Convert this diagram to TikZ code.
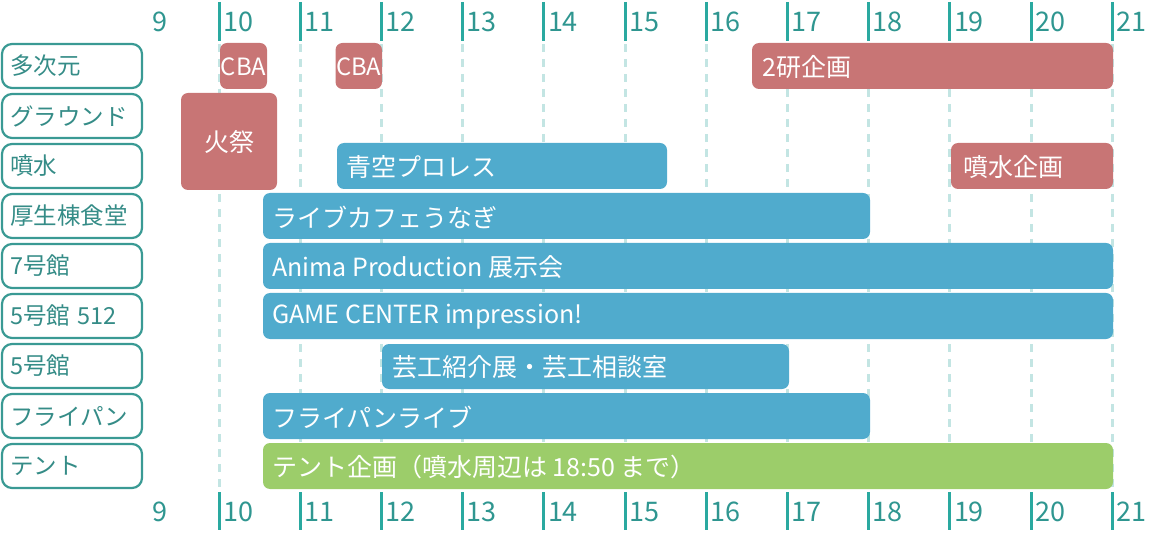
\documentclass[tikz,border=0pt]{standalone}
\usepackage{fontspec}
\setmainfont{Noto Sans CJK JP}
\definecolor{barred}{HTML}{C87575}
\definecolor{barblue}{HTML}{50ABCD}
\definecolor{bargreen}{HTML}{9CCD6A}
\definecolor{tickteal}{HTML}{2AA9A0}
\definecolor{dashteal}{HTML}{C3E5E3}
\definecolor{labborder}{HTML}{3A9A94}
\definecolor{labtext}{HTML}{358C87}
\definecolor{numteal}{HTML}{2F9690}
\tikzset{
  lab/.style={draw=labborder, line width=2.2pt, rounded corners=10pt, minimum width=140pt, minimum height=44pt,
    inner xsep=8pt, text width=124pt, align=left, text=labtext, font=\fontsize{23.5}{26}\selectfont},
  hourtick/.style={draw=tickteal, line width=3pt},
  grid/.style={draw=dashteal, line width=3pt, dash pattern=on 8pt off 7pt},
  num/.style={text=numteal, font=\fontsize{27}{30}\selectfont, inner sep=0pt, anchor=west},
  redbar/.style={fill=barred, rounded corners=7pt},
  bluebar/.style={fill=barblue, rounded corners=7pt},
  greenbar/.style={fill=bargreen, rounded corners=7pt},
  bartext/.style={text=white, font=\fontsize{25}{28}\selectfont, inner sep=0pt, anchor=west},
  barctext/.style={text=white, font=\fontsize{25}{28}\selectfont, inner sep=0pt},
  cbatext/.style={text=white, font=\fontsize{23.8}{26}\selectfont, inner sep=0pt},
}
\begin{document}
\begin{tikzpicture}[x=1pt,y=-1pt]
\useasboundingbox (0,0) rectangle (1153,534);
% dashed grid lines, ticks and hour numbers
\foreach \h in {10,...,21}{
  \pgfmathsetmacro{\xx}{219+(\h-10)*81.2}
  \draw[grid] (\xx,44) -- (\xx,490);
  \draw[hourtick] (\xx,2) -- (\xx,41);
  \draw[hourtick] (\xx,492) -- (\xx,530);
  \node[num] (top\h) at (\xx+4,22) {\h};
  \node[num] (bot\h) at (\xx+4,512) {\h};
}
\node[num] (top9) at (152,22) {9};
\node[num] (bot9) at (152,512) {9};
% row labels
\node[lab] (r1) at (72,66) {多次元};
\node[lab] (r2) at (72,116) {グラウンド};
\node[lab] (r3) at (72,166) {噴水};
\node[lab] (r4) at (72,216) {厚生棟食堂};
\node[lab] (r5) at (72,266) {7号館};
\node[lab] (r6) at (72,316) {5号館 512};
\node[lab] (r7) at (72,366) {5号館};
\node[lab] (r8) at (72,416) {フライパン};
\node[lab] (r9) at (72,466) {テント};
% bars
\path[redbar] (220,43) rectangle (267,89);
\node[cbatext] (cba1) at (243.5,67) {CBA};
\path[redbar] (335.5,43) rectangle (382,89);
\node[cbatext] (cba2) at (358.7,67) {CBA};
\path[redbar] (752,43) rectangle (1113,89);
\node[bartext] (niken) at (762,67) {2研企画};
\path[redbar] (181,93) rectangle (277,190);
\node[barctext] (himatsuri) at (229,142) {火祭};
\path[bluebar] (337,143) rectangle (667,189);
\node[bartext] (aozora) at (346,167) {青空プロレス};
\path[redbar] (951,143) rectangle (1113,189);
\node[bartext] (funsui) at (963,167) {噴水企画};
\path[bluebar] (263,193) rectangle (870,239);
\node[bartext] (cafe) at (272,217) {ライブカフェうなぎ};
\path[bluebar] (263,243) rectangle (1113,289);
\node[bartext] (anima) at (272,267) {Anima Production 展示会};
\path[bluebar] (263,293) rectangle (1113,339);
\node[bartext] (game) at (272,317) {GAME CENTER impression!};
\path[bluebar] (382,344) rectangle (789,389);
\node[bartext] (geiko) at (392,367) {芸工紹介展・芸工相談室};
\path[bluebar] (263,393) rectangle (870,439);
\node[bartext] (fry) at (272,417) {フライパンライブ};
\path[greenbar] (263,443) rectangle (1113,489);
\node[bartext] (tent) at (272,467) {テント企画（噴水周辺は 18:50 まで）};
\end{tikzpicture}
\end{document}
